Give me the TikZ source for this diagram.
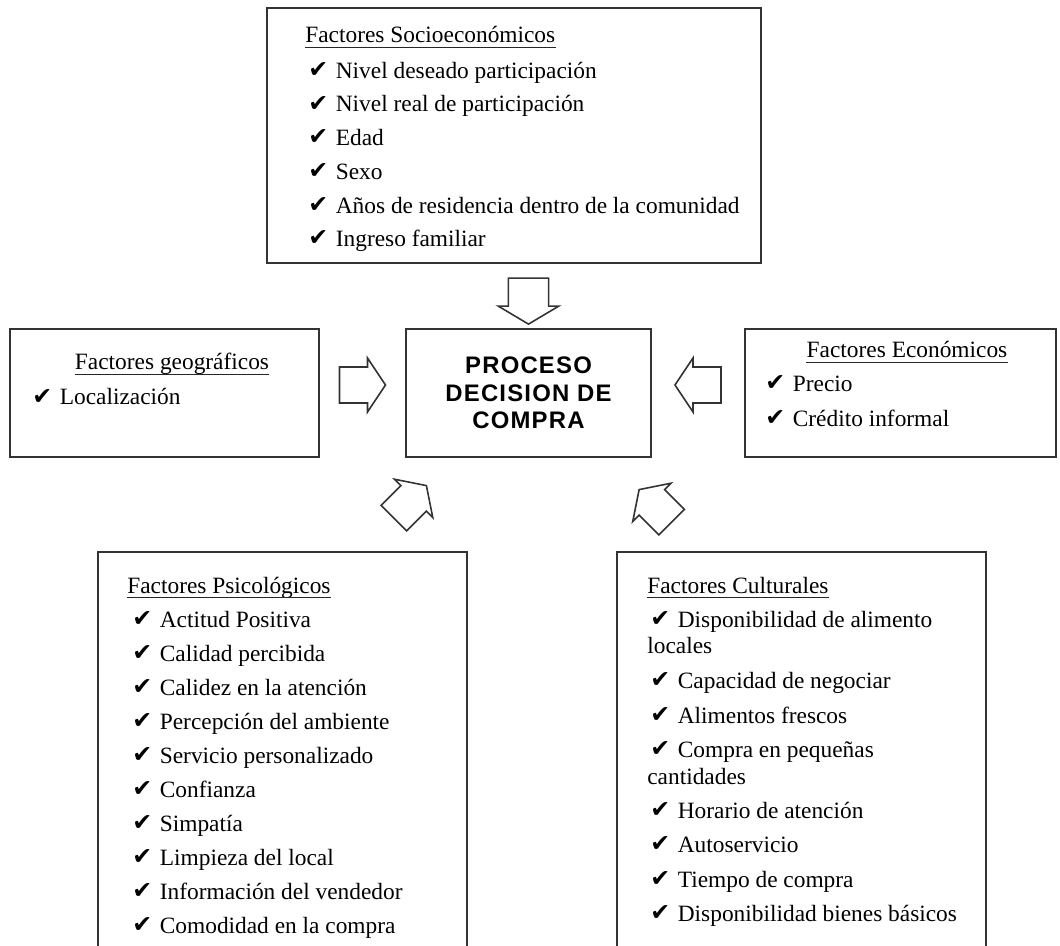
\documentclass[tikz,border=0pt]{standalone}
\usepackage{fontspec}
\setmainfont{Liberation Serif}
\newfontfamily\chkfont{DejaVu Sans}
\newfontfamily\procfont{Liberation Sans}[LetterSpace=5]
\usetikzlibrary{calc}

\newcommand\chk{\makebox[0.55cm][l]{\raisebox{0.5pt}{\chkfont\fontsize{13.5}{13.5}\selectfont ✔}}}

\begin{document}
\begin{tikzpicture}[
  box/.style={draw=black!80, line width=1pt, inner sep=0pt},
  head/.style={font=\fontsize{13.3}{16}\selectfont, inner sep=0pt, anchor=base west},
  item/.style={font=\fontsize{13.3}{16}\selectfont, inner sep=0pt, anchor=base west},
  uline/.style={draw=black!85, line width=0.8pt},
  proctext/.style={font=\procfont\bfseries\fontsize{13.6}{15.6}\selectfont, align=center},
  fatarrow/.pic={
    \draw[draw=black!80, fill=white, line width=0.9pt, line join=miter]
      (-0.46,-0.36) -- (0.10,-0.36) -- (0.10,-0.54) -- (0.46,0)
      -- (0.10,0.54) -- (0.10,0.36) -- (-0.46,0.36) -- cycle;
  }
]

\useasboundingbox (0,0) rectangle (21.2,-18.92);
\clip (0,0) rectangle (21.2,-18.92);

% factor boxes
\node[box, minimum width=9.88cm, minimum height=5.10cm] (socio) at (10.28,-2.71) {};
\node[box, minimum width=6.18cm, minimum height=2.56cm] (geo) at (3.29,-7.86) {};
\node[box, proctext, minimum width=4.90cm, minimum height=2.56cm] (proc) at (10.57,-7.86)
  {PROCESO\\DECISION DE\\COMPRA};
\node[box, minimum width=6.22cm, minimum height=2.56cm] (econ) at (18.01,-7.86) {};
\node[box, minimum width=7.38cm, minimum height=8.16cm] (psico) at (5.65,-15.12) {};
\node[box, minimum width=7.38cm, minimum height=8.16cm] (cult) at (16.03,-15.12) {};

% Factores Socioeconomicos
\node[head] (hsocio) at (6.10,-0.86) {Factores Socioeconómicos};
\foreach \txt [count=\i] in {Nivel deseado participación, Nivel real de participación,
    Edad, Sexo, Años de residencia dentro de la comunidad, Ingreso familiar}
  \node[item] (socio-\i) at (6.16,{-1.566-0.674*(\i-1)}) {\chk\txt};

% Factores geograficos
\node[head, anchor=base] (hgeo) at (3.44,-7.40) {Factores geográficos};
\node[item] (geo-1) at (0.64,-8.10) {\chk Localización};

% Factores Economicos
\node[head, anchor=base] (hecon) at (18.14,-7.16) {Factores Económicos};
\node[item] (econ-1) at (15.30,-7.83) {\chk Precio};
\node[item] (econ-2) at (15.30,-8.53) {\chk Crédito informal};

% Factores Psicologicos
\node[head] (hpsico) at (2.54,-11.86) {Factores Psicológicos};
\foreach \txt [count=\i] in {Actitud Positiva, Calidad percibida, Calidez en la atención,
    Percepción del ambiente, Servicio personalizado, Confianza, Simpatía,
    Limpieza del local, Información del vendedor, Comodidad en la compra}
  \node[item] (psico-\i) at (2.64,{-12.54-0.68*(\i-1)}) {\chk\txt};

% Factores Culturales
\node[head] (hcult) at (12.94,-11.86) {Factores Culturales};
\foreach \y/\txt [count=\i] in {-12.54/Disponibilidad de alimento, -13.76/Capacidad de negociar,
    -14.46/Alimentos frescos, -15.14/Compra en pequeñas, -16.36/Horario de atención,
    -17.04/Autoservicio, -17.74/Tiempo de compra, -18.42/Disponibilidad bienes básicos}
  \node[item] (cult-\i) at (13.00,\y) {\chk\txt};
\node[item] (cult-1b) at (12.94,-13.06) {locales};
\node[item] (cult-4b) at (12.94,-15.68) {cantidades};

% underlined headings
\foreach \h in {hsocio, hgeo, hecon, hpsico, hcult}
  \draw[uline] ([yshift=-2.6pt]\h.base west) -- ([yshift=-2.6pt]\h.base east);

% block arrows into the decision process
\pic[rotate=-90, yscale=1.12] (asocio) at ($(proc.north)+(0,0.54)$) {fatarrow};
\pic (ageo) at ($(geo.east)!0.5!(proc.west)+(0,0.16)$) {fatarrow};
\pic[rotate=180] (aecon) at ($(econ.west)!0.5!(proc.east)+(0,0.16)$) {fatarrow};
\pic[rotate=45] (apsico) at ($(proc.south west)+(0.1,-0.88)$) {fatarrow};
\pic[rotate=135] (acult) at ($(proc.south east)+(0.07,-0.96)$) {fatarrow};

\end{tikzpicture}
\end{document}
